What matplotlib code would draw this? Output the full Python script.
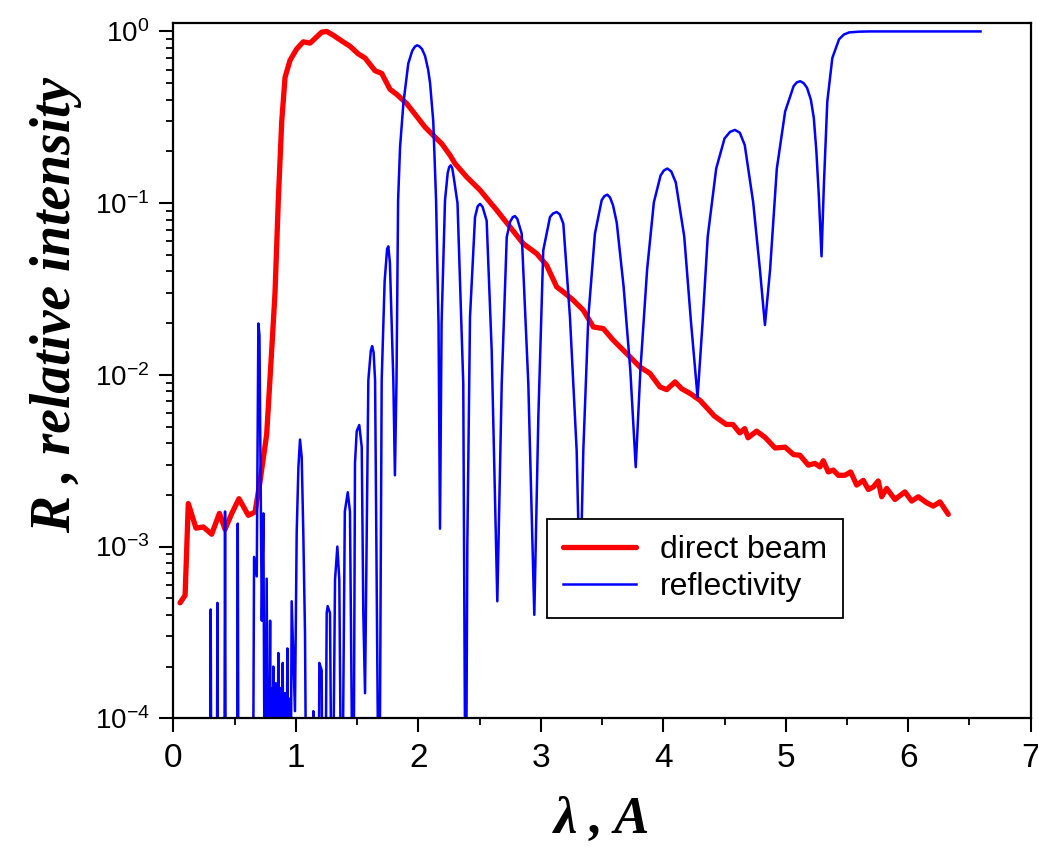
import math
import matplotlib
matplotlib.use('Agg')
import matplotlib.pyplot as plt
from matplotlib.ticker import MultipleLocator, LogLocator, NullFormatter, FuncFormatter

# direct beam spectrum (red)
beam_lam = [0.055, 0.096, 0.122, 0.185, 0.245, 0.313, 0.376, 0.422, 0.477, 0.536,
            0.612, 0.667, 0.708, 0.762, 0.803, 0.830, 0.857, 0.885, 0.912, 0.953,
            1.007, 1.061, 1.116, 1.157, 1.211, 1.252, 1.306, 1.375, 1.442, 1.51,
            1.565, 1.647, 1.701, 1.769, 1.824, 1.905, 1.987, 2.055, 2.122, 2.191,
            2.259, 2.30, 2.395, 2.504, 2.64, 2.749, 2.857, 2.967, 3.048, 3.13,
            3.184, 3.265, 3.347, 3.429, 3.51, 3.592, 3.701, 3.81, 3.891, 3.973,
            4.028, 4.096, 4.15, 4.218, 4.30, 4.418, 4.514, 4.569, 4.624, 4.665,
            4.692, 4.762, 4.83, 4.913, 4.995, 5.064, 5.116, 5.184, 5.238, 5.279,
            5.306, 5.347, 5.388, 5.429, 5.483, 5.53, 5.579, 5.633, 5.674, 5.714,
            5.755, 5.783, 5.824, 5.891, 5.973, 6.028, 6.082, 6.15, 6.204, 6.259,
            6.327]
beam_int = [4.7e-4, 5.2e-4, 1.78e-3, 1.28e-3, 1.30e-3, 1.18e-3, 1.56e-3, 1.26e-3, 1.56e-3, 1.9e-3,
            1.52e-3, 1.59e-3, 2.4e-3, 4.5e-3, 0.0139, 0.03, 0.104, 0.30, 0.54, 0.68,
            0.79, 0.87, 0.855, 0.91, 0.99, 1.0, 0.95, 0.88, 0.82, 0.74,
            0.70, 0.59, 0.57, 0.46, 0.43, 0.38, 0.32, 0.277, 0.248, 0.222,
            0.19, 0.170, 0.142, 0.119, 0.091, 0.0726, 0.058, 0.0508, 0.0434, 0.0325,
            0.0304, 0.0272, 0.0238, 0.019, 0.0186, 0.0159, 0.0133, 0.0111, 0.0102, 0.0085,
            0.0082, 0.0091, 0.0083, 0.0078, 0.0071, 0.00575, 0.00514, 0.00514, 0.00459, 0.00486,
            0.0043, 0.0047, 0.00433, 0.00375, 0.00379, 0.00343, 0.0034, 0.00298, 0.00305, 0.00291,
            0.00316, 0.00272, 0.00279, 0.0026, 0.0026, 0.00272, 0.00228, 0.00243, 0.00215, 0.00222,
            0.00241, 0.00195, 0.00218, 0.00188, 0.00208, 0.00184, 0.00195, 0.0018, 0.00172, 0.00182,
            0.00154]

# reflectivity (blue); 1e-5 = below the plotted range
refl_lam = [0.05, 0.298, 0.305, 0.312, 0.353, 0.36, 0.367, 0.415, 0.422, 0.429,
            0.519, 0.526, 0.533, 0.648, 0.659, 0.681, 0.694, 0.703, 0.722, 0.735,
            0.748, 0.762, 0.775, 0.79, 0.798, 0.806, 0.812, 0.816, 0.826, 0.836,
            0.846, 0.857, 0.866, 0.875, 0.884, 0.893, 0.902, 0.912, 0.921, 0.931,
            0.94, 0.948, 0.955, 0.966, 0.993, 1.007, 1.021, 1.034, 1.048, 1.061,
            1.075, 1.089, 1.135, 1.143, 1.152, 1.184, 1.192, 1.211, 1.22, 1.238,
            1.252, 1.26, 1.279, 1.297, 1.32, 1.339, 1.355, 1.375, 1.40, 1.424,
            1.442, 1.469, 1.483, 1.497, 1.518, 1.538, 1.551, 1.565, 1.592, 1.612,
            1.623, 1.635, 1.647, 1.68, 1.701, 1.725, 1.745, 1.755, 1.768, 1.796,
            1.809, 1.822, 1.835, 1.851, 1.878, 1.918, 1.95, 1.972, 1.99, 2.008,
            2.03, 2.055, 2.08, 2.096, 2.122, 2.145, 2.165, 2.177, 2.19, 2.218,
            2.24, 2.252, 2.264, 2.277, 2.29, 2.32, 2.367, 2.387, 2.40, 2.422,
            2.463, 2.485, 2.504, 2.525, 2.558, 2.599, 2.645, 2.681, 2.722, 2.75,
            2.772, 2.789, 2.808, 2.844, 2.898, 2.947, 2.98, 3.02, 3.075, 3.10,
            3.13, 3.155, 3.184, 3.238, 3.293, 3.32, 3.347, 3.388, 3.442, 3.497,
            3.52, 3.543, 3.565, 3.59, 3.62, 3.676, 3.731, 3.775, 3.813, 3.868,
            3.923, 3.978, 4.005, 4.033, 4.065, 4.102, 4.171, 4.225, 4.28, 4.322,
            4.363, 4.432, 4.50, 4.545, 4.585, 4.625, 4.665, 4.734, 4.789, 4.83,
            4.872, 4.927, 4.995, 5.064, 5.09, 5.118, 5.146, 5.174, 5.205, 5.229,
            5.25, 5.27, 5.292, 5.311, 5.339, 5.38, 5.435, 5.475, 5.518, 5.6,
            5.683, 6.59]
refl_R = [1e-5, 1e-5, 4.3e-4, 1e-5, 1e-5, 4.7e-4, 1e-5, 1e-5, 1.6e-3, 1e-5,
          1e-5, 1.36e-3, 1e-5, 1e-5, 8.7e-4, 6.7e-4, 0.0199, 0.017, 3.7e-4, 1.56e-3,
          1e-5, 6.5e-4, 1e-5, 3.7e-4, 1e-5, 1.5e-4, 1e-5, 2.0e-4, 1e-5, 1.6e-4,
          1e-5, 2.4e-4, 1e-5, 1.5e-4, 1e-5, 2.1e-4, 1e-5, 1.4e-4, 1e-5, 2.55e-4,
          1e-5, 1.3e-4, 1e-5, 4.8e-4, 1.1e-4, 1.2e-3, 2.9e-3, 4.2e-3, 3.3e-3, 1.2e-3,
          3.1e-4, 1e-5, 1e-5, 1.1e-4, 1e-5, 1e-5, 2.1e-4, 1.9e-4, 1e-5, 1e-5,
          4.1e-4, 4.5e-4, 4.1e-4, 1e-5, 6.4e-4, 1.0e-3, 6.4e-4, 1e-5, 1.6e-3, 2.07e-3,
          1.6e-3, 1e-5, 3.06e-3, 4.7e-3, 5.1e-3, 3.8e-3, 4.1e-4, 1.4e-4, 9.3e-3, 0.0138,
          0.0147, 0.0135, 9.3e-3, 1e-5, 9.3e-3, 0.035, 0.054, 0.056, 0.045, 9.3e-3,
          2.6e-3, 9.3e-3, 0.104, 0.212, 0.38, 0.65, 0.77, 0.815, 0.83, 0.82,
          0.79, 0.72, 0.6, 0.5, 0.30, 0.104, 0.02, 1.27e-3, 0.02, 0.104,
          0.15, 0.162, 0.166, 0.16, 0.14, 0.1, 0.0089, 1e-5, 1e-3, 0.0217,
          0.083, 0.096, 0.099, 0.095, 0.079, 0.0139, 4.8e-4, 0.0089, 0.0635, 0.078,
          0.083, 0.084, 0.081, 0.0664, 0.0089, 4.0e-4, 0.0057, 0.053, 0.083, 0.087,
          0.0888, 0.086, 0.0759, 0.0217, 3.6e-3, 5e-4, 3.6e-3, 0.0217, 0.0664, 0.104,
          0.11, 0.112, 0.108, 0.097, 0.077, 0.0327, 0.0106, 2.9e-3, 0.0106, 0.041,
          0.101, 0.145, 0.155, 0.159, 0.153, 0.132, 0.064, 0.0208, 7.4e-3, 0.0208,
          0.064, 0.159, 0.238, 0.26, 0.267, 0.257, 0.218, 0.101, 0.041, 0.0195,
          0.041, 0.159, 0.342, 0.48, 0.505, 0.513, 0.5, 0.469, 0.4, 0.313,
          0.2, 0.11, 0.049, 0.127, 0.39, 0.70, 0.90, 0.96, 0.987, 0.997,
          1.0, 1.0]

plt.rcParams['font.family'] = ['Liberation Sans', 'DejaVu Sans']
plt.rcParams['mathtext.fontset'] = 'custom'
plt.rcParams['mathtext.rm'] = 'Liberation Sans'

fig = plt.figure(figsize=(10.38, 8.51), dpi=100)
ax = fig.add_axes([0.167, 0.156, 0.826, 0.817])

ax.plot(beam_lam, beam_int, color='#ff0000', lw=3.8, solid_joinstyle='round',
        solid_capstyle='round', label='direct beam')
ax.plot(refl_lam, refl_R, color='#0000ff', lw=1.8, label='reflectivity')

ax.set_yscale('log')
ax.set_xlim(0, 7)
ax.set_ylim(1e-4, 1.12)

ax.xaxis.set_major_locator(MultipleLocator(1))
ax.xaxis.set_minor_locator(MultipleLocator(0.5))
ax.yaxis.set_major_locator(LogLocator(base=10, numticks=10))
ax.yaxis.set_minor_locator(LogLocator(base=10, subs=range(2, 10), numticks=10))
ax.yaxis.set_minor_formatter(NullFormatter())
ax.yaxis.set_major_formatter(FuncFormatter(lambda v, p: r'$\mathregular{10^{%d}}$' % round(math.log10(v))))

ax.tick_params(which='major', direction='out', length=10, width=1.5, labelsize=20, pad=7)
ax.tick_params(which='minor', direction='out', length=5, width=1.3)
ax.tick_params(axis='x', which='major', labelsize=24, pad=8)
for s in ax.spines.values():
    s.set_linewidth(1.6)

ax.set_xlabel('λ , A', family='Liberation Serif', weight='bold', style='italic', fontsize=38)
ax.set_ylabel('R , relative intensity', family='Liberation Serif', weight='bold', style='italic', fontsize=40)
ax.xaxis.set_label_coords(0.5, -0.112)
ax.yaxis.set_label_coords(-0.106, 0.594)

leg = ax.legend(loc='upper left', bbox_to_anchor=(0.4357, 0.2865), borderaxespad=0,
                fancybox=False, edgecolor='black', framealpha=1, fontsize=23,
                handlelength=2.3, borderpad=0.5, labelspacing=0.22, handletextpad=0.75)
leg.get_frame().set_linewidth(1.3)

fig.savefig('out.png', dpi=100)
